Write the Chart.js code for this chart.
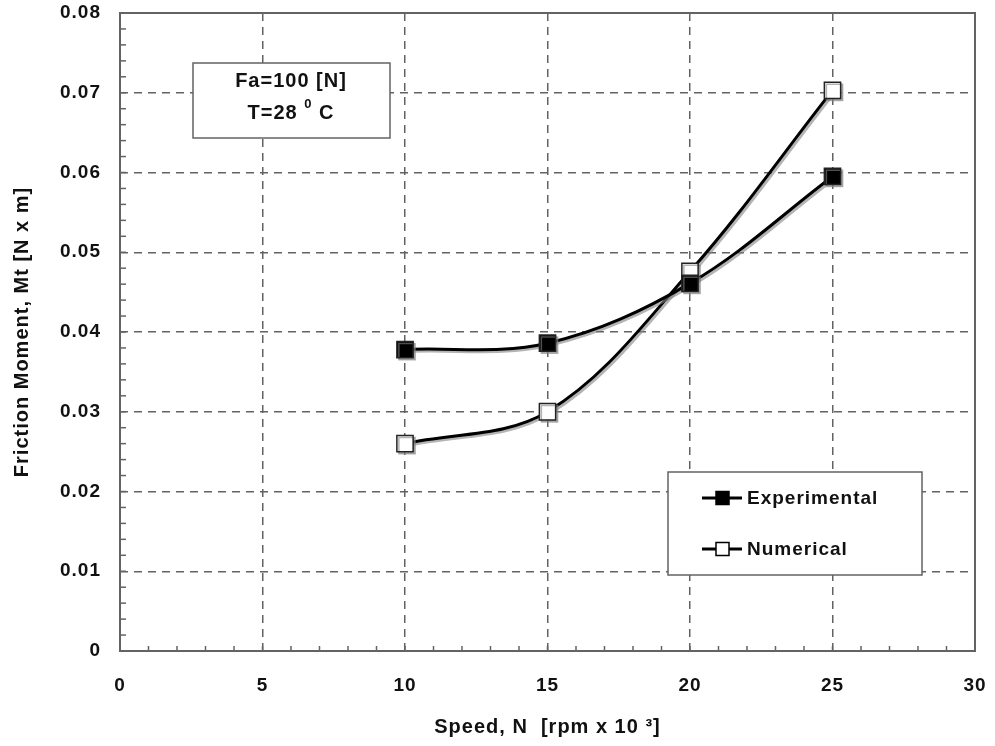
<!DOCTYPE html>
<html>
<head>
<meta charset="utf-8">
<script src="https://cdn.jsdelivr.net/npm/chart.js@4"></script>
<style>
  html, body { margin: 0; padding: 0; background: #fff; }
  #wrap { width: 995px; height: 746px; }
</style>
</head>
<body>
<div id="wrap"><canvas id="chart" width="995" height="746"></canvas></div>
<script>
const speed = [10, 15, 20, 25];
const experimental = [0.0378, 0.0386, 0.0461, 0.0595];
const numerical = [0.0260, 0.0300, 0.0476, 0.0703];

const xTicks = [0, 5, 10, 15, 20, 25, 30];
const yTicks = [0, 0.01, 0.02, 0.03, 0.04, 0.05, 0.06, 0.07, 0.08];

const noteLines = ['Fa=100 [N]', 'T=28', '0', 'C'];

const FONT = '"Liberation Sans", Arial, sans-serif';
const GRID = '#636363';

const ctx = document.getElementById('chart');

// ---------- espaciado de letras (texto algo ancho del original) ----------
const spacingPlugin = {
    id: 'spacing',
    beforeInit(chart) { chart.ctx.letterSpacing = '1px'; },
    beforeDraw(chart) { chart.ctx.letterSpacing = '1px'; }
};

// ---------- sombras de los marcadores ----------
const shadowPlugin = {
    id: 'shadow',
    beforeDatasetDraw(chart) {
        const c = chart.ctx;
        c.save();
        c.shadowColor = 'rgba(130,130,130,0.6)';
        c.shadowOffsetX = 2;
        c.shadowOffsetY = 2;
        c.shadowBlur = 0;
    },
    afterDatasetDraw(chart) {
        chart.ctx.restore();
    }
};

// ---------- marco, ticks menores, cajas ----------
const decorPlugin = {
    id: 'decor',
    beforeDatasetsDraw(chart) {
        const c = chart.ctx;
        const a = chart.chartArea;
        const xs = chart.scales.x;
        const ys = chart.scales.y;

        c.save();
        c.strokeStyle = GRID;
        c.lineWidth = 1.5;

        // ticks menores hacia dentro
        for (let v = xs.min; v <= xs.max; v += 1) {
            const px = xs.getPixelForValue(v);
            c.beginPath();
            c.moveTo(px, a.bottom);
            c.lineTo(px, a.bottom - 5);
            c.stroke();
        }
        for (let i = 0; i <= 40; i++) {
            const py = ys.getPixelForValue(i * 0.002);
            c.beginPath();
            c.moveTo(a.left, py);
            c.lineTo(a.left + 6, py);
            c.stroke();
        }

        // marco
        c.lineWidth = 2;
        c.strokeRect(a.left, a.top, a.right - a.left, a.bottom - a.top);

        // caja de condiciones
        c.fillStyle = '#fff';
        c.fillRect(193, 63, 197, 75);
        c.lineWidth = 1.5;
        c.strokeRect(193, 63, 197, 75);

        c.fillStyle = '#111';
        c.font = `bold 20px ${FONT}`;
        c.textAlign = 'center';
        c.textBaseline = 'middle';
        c.fillText(noteLines[0], 291, 81);

        c.textAlign = 'left';
        const w1 = c.measureText(noteLines[1] + ' ').width;
        const w3 = c.measureText(' ' + noteLines[3]).width;
        c.font = `bold 13px ${FONT}`;
        const w2 = c.measureText(noteLines[2]).width;
        const x0 = 291 - (w1 + w2 + w3) / 2;
        c.font = `bold 20px ${FONT}`;
        c.fillText(noteLines[1] + ' ', x0, 113);
        c.font = `bold 13px ${FONT}`;
        c.fillText(noteLines[2], x0 + w1, 104);
        c.font = `bold 20px ${FONT}`;
        c.fillText(' ' + noteLines[3], x0 + w1 + w2, 113);

        // caja de leyenda
        c.fillStyle = '#fff';
        c.fillRect(668, 472, 254, 103);
        c.lineWidth = 1.5;
        c.strokeStyle = GRID;
        c.strokeRect(668, 472, 254, 103);
        c.restore();
    },
    afterDatasetsDraw(chart) {
        const c = chart.ctx;
        const rows = [498, 549];
        c.save();
        chart.data.datasets.forEach((ds, i) => {
            const y = rows[i];
            c.strokeStyle = ds.borderColor;
            c.lineWidth = 3;
            c.beginPath();
            c.moveTo(702, y);
            c.lineTo(742, y);
            c.stroke();
            c.fillStyle = ds.pointBackgroundColor;
            c.lineWidth = 1.5;
            c.fillRect(716, y - 6.5, 13, 13);
            c.strokeRect(716, y - 6.5, 13, 13);
            c.fillStyle = '#111';
            c.font = `bold 19px ${FONT}`;
            c.textAlign = 'left';
            c.textBaseline = 'middle';
            c.fillText(ds.label, 747, y + 1);
        });
        c.restore();
    }
};

new Chart(ctx, {
    type: 'scatter',
    data: {
        datasets: [
            {
                label: 'Experimental',
                data: speed.map((s, i) => ({ x: s, y: experimental[i] })),
                showLine: true,
                borderColor: '#000',
                borderWidth: 3,
                tension: 0.35,
                pointStyle: 'rect',
                pointRadius: 11.5,
                pointBorderWidth: 1.5,
                pointBackgroundColor: '#000',
                pointBorderColor: '#222'
            },
            {
                label: 'Numerical',
                data: speed.map((s, i) => ({ x: s, y: numerical[i] })),
                showLine: true,
                borderColor: '#000',
                borderWidth: 3,
                tension: 0.35,
                pointStyle: 'rect',
                pointRadius: 11.5,
                pointBorderWidth: 1.5,
                pointBackgroundColor: '#fff',
                pointBorderColor: '#222'
            }
        ]
    },
    options: {
        responsive: false,
        animation: false,
        layout: {
            padding: { left: 0, top: 11, right: 20, bottom: 0 }
        },
        plugins: {
            legend: { display: false },
            tooltip: { enabled: false }
        },
        scales: {
            x: {
                type: 'linear',
                min: 0,
                max: 30,
                afterBuildTicks: s => { s.ticks = xTicks.map(v => ({ value: v })); },
                afterFit: s => {
                    s.height = 95;
                    s.paddingLeft = 0;
                    s.paddingRight = 0;
                },
                border: { display: false, dash: [8, 6] },
                grid: {
                    color: GRID,
                    lineWidth: 1.5,
                    drawTicks: false
                },
                ticks: {
                    color: '#111',
                    padding: 23,
                    maxRotation: 0,
                    font: { family: FONT, size: 19, weight: 'bold' }
                },
                title: {
                    display: true,
                    text: 'Speed, N  [rpm x 10 ³]',
                    color: '#111',
                    padding: { top: 0, bottom: 7 },
                    font: { family: FONT, size: 20, weight: 'bold' }
                }
            },
            y: {
                min: 0,
                max: 0.08,
                afterBuildTicks: s => { s.ticks = yTicks.map(v => ({ value: v })); },
                afterFit: s => {
                    s.width = 120;
                    s.paddingTop = 0;
                    s.paddingBottom = 0;
                },
                border: { display: false, dash: [8, 6] },
                grid: {
                    color: GRID,
                    lineWidth: 1.5,
                    drawTicks: false
                },
                ticks: {
                    color: '#111',
                    padding: 19,
                    callback: v => String(Math.round(v * 100) / 100),
                    font: { family: FONT, size: 19, weight: 'bold' }
                },
                title: {
                    display: true,
                    text: 'Friction Moment, Mt [N x m]',
                    color: '#111',
                    padding: { top: 10 },
                    font: { family: FONT, size: 20, weight: 'bold' }
                }
            }
        }
    },
    plugins: [spacingPlugin, decorPlugin, shadowPlugin]
});
</script>
</body>
</html>
